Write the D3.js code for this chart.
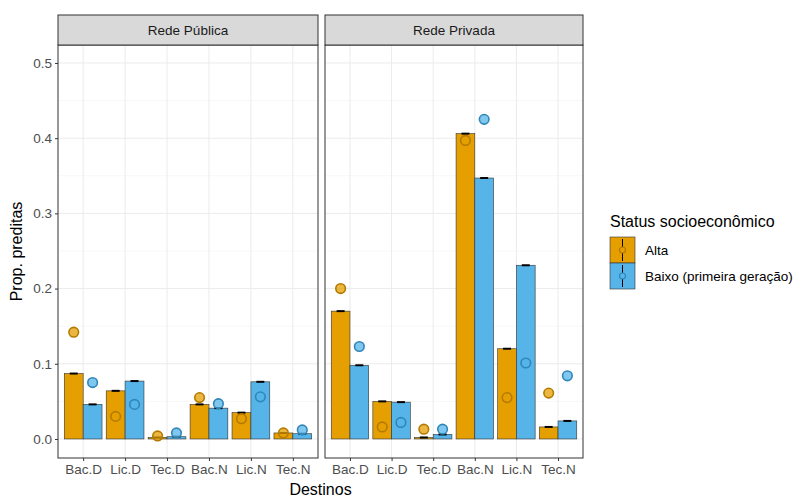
<!DOCTYPE html>
<html>
<head>
<meta charset="utf-8">
<script src="https://cdn.jsdelivr.net/npm/d3@7/dist/d3.min.js"></script>
<style>
  body { margin: 0; background: #fff; }
  svg { display: block; font-family: "Liberation Sans", Arial, sans-serif; }
</style>
</head>
<body>
<svg id="chart" width="803" height="502"></svg>
<script>
// Destinations on the x axis
const destinos = ["Bac.D", "Lic.D", "Tec.D", "Bac.N", "Lic.N", "Tec.N"];
const redes = ["Rede Pública", "Rede Privada"];
const grupos = ["Alta", "Baixo (primeira geração)"];

// Predicted proportions (bars)
const predPublicaAlta  = [0.087, 0.064, 0.002, 0.046, 0.035, 0.008];
const predPublicaBaixo = [0.046, 0.077, 0.003, 0.041, 0.076, 0.007];
const predPrivadaAlta  = [0.170, 0.050, 0.002, 0.406, 0.120, 0.016];
const predPrivadaBaixo = [0.098, 0.049, 0.006, 0.347, 0.231, 0.024];

// Observed proportions (points)
const obsPublicaAlta  = [0.142, 0.030, 0.004, 0.055, 0.027, 0.008];
const obsPublicaBaixo = [0.075, 0.046, 0.008, 0.047, 0.056, 0.012];
const obsPrivadaAlta  = [0.200, 0.016, 0.013, 0.397, 0.055, 0.061];
const obsPrivadaBaixo = [0.123, 0.022, 0.013, 0.425, 0.101, 0.084];

const yTicks = [0.0, 0.1, 0.2, 0.3, 0.4, 0.5];

const fills = ["#E69F00", "#56B4E9"];
const rings = ["#B47A00", "#2F86B8"];

const pred = [[predPublicaAlta, predPublicaBaixo], [predPrivadaAlta, predPrivadaBaixo]];
const obs  = [[obsPublicaAlta, obsPublicaBaixo], [obsPrivadaAlta, obsPrivadaBaixo]];

const svg = d3.select("#chart");

const panelTop = 45, panelBottom = 458, stripTop = 15;
const panels = [{x0: 58, x1: 318}, {x0: 325, x1: 583}];

const y = d3.scaleLinear().domain([-0.0253, 0.5239]).range([panelBottom, panelTop]);
const minorTicks = [0.05, 0.15, 0.25, 0.35, 0.45];

panels.forEach((p, pi) => {
  const x = d3.scalePoint().domain(destinos).range([p.x0, p.x1]).padding(0.6);
  const step = x.step();
  const dodge = d3.scaleBand().domain(grupos).range([-0.45 * step, 0.45 * step]);

  const g = svg.append("g");

  // panel background
  g.append("rect").attr("x", p.x0).attr("y", panelTop)
    .attr("width", p.x1 - p.x0).attr("height", panelBottom - panelTop)
    .attr("fill", "#fff");

  // grid
  g.selectAll("line.minor").data(minorTicks).join("line")
    .attr("x1", p.x0).attr("x2", p.x1)
    .attr("y1", d => y(d)).attr("y2", d => y(d))
    .attr("stroke", "#f2f2f2").attr("stroke-width", 0.6);
  g.selectAll("line.majy").data(yTicks).join("line")
    .attr("x1", p.x0).attr("x2", p.x1)
    .attr("y1", d => y(d)).attr("y2", d => y(d))
    .attr("stroke", "#ebebeb").attr("stroke-width", 1);
  g.selectAll("line.majx").data(destinos).join("line")
    .attr("x1", d => x(d)).attr("x2", d => x(d))
    .attr("y1", panelTop).attr("y2", panelBottom)
    .attr("stroke", "#ebebeb").attr("stroke-width", 1);

  // bars, error bars and points per group
  grupos.forEach((grp, gi) => {
    const vals = destinos.map((d, i) => ({d, v: pred[pi][gi][i], o: obs[pi][gi][i]}));
    g.append("g").selectAll("rect").data(vals).join("rect")
      .attr("x", d => x(d.d) + dodge(grp))
      .attr("width", dodge.bandwidth())
      .attr("y", d => y(d.v))
      .attr("height", d => y(0) - y(d.v))
      .attr("fill", fills[gi])
      .attr("stroke", "#333").attr("stroke-width", 0.6);
  });
  grupos.forEach((grp, gi) => {
    const vals = destinos.map((d, i) => ({d, v: pred[pi][gi][i]}));
    const cx = d => x(d.d) + dodge(grp) + dodge.bandwidth() / 2;
    g.append("g").selectAll("line").data(vals).join("line")
      .attr("x1", d => cx(d) - 4).attr("x2", d => cx(d) + 4)
      .attr("y1", d => y(d.v)).attr("y2", d => y(d.v))
      .attr("stroke", "#000").attr("stroke-width", 2);
  });
  grupos.forEach((grp, gi) => {
    const vals = destinos.map((d, i) => ({d, o: obs[pi][gi][i]}));
    g.append("g").selectAll("circle").data(vals).join("circle")
      .attr("cx", d => x(d.d) + dodge(grp) + dodge.bandwidth() / 2)
      .attr("cy", d => y(d.o))
      .attr("r", 4.8)
      .attr("fill", fills[gi]).attr("fill-opacity", 0.75)
      .attr("stroke", rings[gi]).attr("stroke-width", 1.6);
  });

  // panel border
  g.append("rect").attr("x", p.x0).attr("y", panelTop)
    .attr("width", p.x1 - p.x0).attr("height", panelBottom - panelTop)
    .attr("fill", "none").attr("stroke", "#333").attr("stroke-width", 1);

  // strip
  g.append("rect").attr("x", p.x0).attr("y", stripTop)
    .attr("width", p.x1 - p.x0).attr("height", panelTop - stripTop)
    .attr("fill", "#d9d9d9").attr("stroke", "#333").attr("stroke-width", 1);
  g.append("text").attr("x", (p.x0 + p.x1) / 2).attr("y", (stripTop + panelTop) / 2)
    .attr("text-anchor", "middle").attr("dominant-baseline", "central")
    .attr("font-size", 13.5).attr("fill", "#1a1a1a").text(redes[pi]);

  // x axis
  const xAxis = d3.axisBottom(x).tickSize(3).tickPadding(3);
  const ax = g.append("g").attr("transform", `translate(0,${panelBottom})`).call(xAxis);
  ax.select(".domain").remove();
  ax.selectAll(".tick line").attr("stroke", "#333");
  ax.selectAll(".tick text").attr("font-size", 13.5).attr("fill", "#4d4d4d")
    .attr("font-family", "Liberation Sans, Arial, sans-serif");
});

// y axis on the left panel
const yAxis = d3.axisLeft(y).tickValues(yTicks).tickFormat(d3.format(".1f")).tickSize(3).tickPadding(3);
const ay = svg.append("g").attr("transform", `translate(${panels[0].x0},0)`).call(yAxis);
ay.select(".domain").remove();
ay.selectAll(".tick line").attr("stroke", "#333");
ay.selectAll(".tick text").attr("font-size", 13.5).attr("fill", "#4d4d4d")
  .attr("font-family", "Liberation Sans, Arial, sans-serif");

// axis titles
svg.append("text").attr("x", (panels[0].x0 + panels[1].x1) / 2).attr("y", 495)
  .attr("text-anchor", "middle").attr("font-size", 16).attr("fill", "#000").text("Destinos");
svg.append("text")
  .attr("transform", `translate(22,${(panelTop + panelBottom) / 2}) rotate(-90)`)
  .attr("text-anchor", "middle").attr("font-size", 16).attr("fill", "#000").text("Prop. preditas");

// legend
const lg = svg.append("g").attr("transform", "translate(610,215)");
lg.append("text").attr("x", 0).attr("y", 12).attr("font-size", 16).attr("fill", "#000")
  .text("Status socioeconômico");
grupos.forEach((grp, gi) => {
  const ky = 22 + gi * 26;
  const k = lg.append("g").attr("transform", `translate(0,${ky})`);
  k.append("rect").attr("x", 0).attr("y", 0).attr("width", 25).attr("height", 26)
    .attr("fill", fills[gi]).attr("stroke", "#333").attr("stroke-width", 0.6);
  k.append("line").attr("x1", 12.5).attr("x2", 12.5).attr("y1", 2).attr("y2", 24)
    .attr("stroke", "#000").attr("stroke-width", 1);
  k.append("circle").attr("cx", 12.5).attr("cy", 13).attr("r", 3)
    .attr("fill", fills[gi]).attr("stroke", rings[gi]).attr("stroke-width", 1.2);
  k.append("text").attr("x", 35).attr("y", 13).attr("dominant-baseline", "central")
    .attr("font-size", 13.5).attr("fill", "#000").text(grp);
});
</script>
</body>
</html>
